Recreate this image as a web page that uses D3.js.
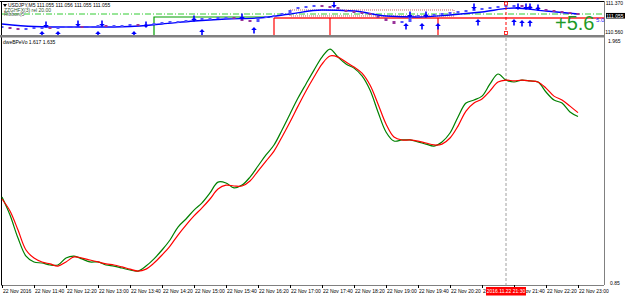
<!DOCTYPE html>
<html><head><meta charset="utf-8">
<script src="https://cdn.jsdelivr.net/npm/d3@7"></script>
<style>body{margin:0;background:#fff}svg{display:block}text{font-family:"Liberation Sans",Arial,sans-serif}</style>
</head><body>
<script>
// ---------- DATA ----------
const timeLabels = ["22 Nov 2016","22 Nov 11:40","22 Nov 12:20","22 Nov 13:00","22 Nov 13:40","22 Nov 14:20","22 Nov 15:00","22 Nov 15:40","22 Nov 16:20","22 Nov 17:00","22 Nov 17:40","22 Nov 18:20","22 Nov 19:00","22 Nov 19:40","22 Nov 20:20","22 Nov 21:00","22 Nov 21:40","22 Nov 22:20","22 Nov 23:00"];
const timeTickBars = [0,8,16,24,32,40,48,56,64,72,80,88,96,104,112,120,128,136,144];
// price closes, every 2nd M5 bar (bar 0,2,...,144)
const closes = [110.766,110.714,110.689,110.714,110.740,110.740,110.714,110.740,110.766,110.766,110.740,110.766,110.791,110.766,110.791,110.791,110.817,110.791,110.817,110.843,110.869,110.894,110.894,110.920,110.971,110.971,110.971,110.997,110.997,110.946,110.920,110.894,110.997,111.023,111.049,111.100,111.203,111.254,111.306,111.306,111.280,111.254,111.203,111.151,111.126,111.100,111.049,110.997,110.920,110.843,110.894,111.023,111.049,111.074,111.074,111.100,111.126,111.151,111.177,111.203,111.229,111.254,111.280,111.306,111.306,111.280,111.254,111.203,111.177,111.151,111.126,111.100,111.055];
// moving average, every 8th bar
const maBars = [0,8,16,24,32,40,48,56,64,72,80,88,96,104,112,120,128,136,144];
const maValues = [110.843,110.779,110.766,110.766,110.779,110.843,110.920,110.971,110.997,111.100,111.203,111.177,111.049,111.023,111.074,111.151,111.254,111.177,111.100];
const upArrowBars = [10,14,24,33,50,63,101,105,109,119,128,130,132];
const upArrowPrices = [110.663,110.663,110.663,110.663,110.714,110.766,110.869,110.869,110.869,110.971,110.971,110.946,110.946];
const downArrowBars = [11,19,25,36,48,60,83,102,106,118,129,131,132,134];
const downArrowPrices = [110.740,110.766,110.766,110.740,110.894,110.946,111.254,110.997,110.997,111.203,111.203,111.203,111.203,111.177];
const greenStepBars = [38,67]; const greenStepLevel = 111.023;
const redStepBars = [68,82,109]; const redStepLevel = 110.997;
const dashLevel = 111.100;
const boxBars = [72,113]; const boxLevels = [111.049,111.203];
const lastPrice = 111.055;
const priceAxisTicks = [111.370,110.560];
// indicator dweBPeVo, every 2nd bar
const mainLine = [1.246,1.163,1.057,0.974,0.947,0.942,0.933,0.933,0.965,0.974,0.961,0.947,0.947,0.933,0.928,0.919,0.910,0.905,0.928,0.961,1.002,1.048,1.108,1.145,1.186,1.219,1.265,1.315,1.311,1.288,1.301,1.338,1.389,1.440,1.486,1.555,1.629,1.702,1.767,1.831,1.891,1.928,1.891,1.859,1.840,1.804,1.739,1.638,1.546,1.504,1.509,1.509,1.500,1.490,1.481,1.500,1.541,1.615,1.679,1.693,1.711,1.767,1.813,1.785,1.776,1.785,1.781,1.776,1.730,1.693,1.679,1.638,1.617];
const signalLine = [1.237,1.182,1.094,1.002,0.965,0.947,0.938,0.928,0.947,0.970,0.965,0.956,0.947,0.938,0.933,0.924,0.914,0.905,0.914,0.942,0.979,1.020,1.071,1.117,1.159,1.196,1.237,1.283,1.301,1.297,1.297,1.320,1.366,1.412,1.458,1.523,1.592,1.665,1.735,1.799,1.859,1.896,1.891,1.868,1.845,1.817,1.762,1.675,1.583,1.523,1.509,1.509,1.504,1.495,1.486,1.490,1.518,1.573,1.642,1.679,1.698,1.735,1.776,1.785,1.781,1.785,1.781,1.776,1.748,1.711,1.693,1.665,1.635];
const indAxisTicks = [1.965,0.85];
const crossBar = 126; const crossLabel = "2016.11.22 21:30";

// ---------- LAYOUT ----------
const W=625,H=298, axisX=604, top1=2, bot1=35, top2=38, bot2=285;
const svg=d3.select("body").append("svg").attr("width",W).attr("height",H);
const x=d3.scaleLinear().domain([0,144]).range([2,578]);
const yP=d3.scaleLinear().domain([110.560,111.370]).range([35,3.5]);
const yI=d3.scaleLinear().domain([0.85,1.965]).range([283,41]);

svg.append("defs").append("clipPath").attr("id","c1").append("rect").attr("x",2).attr("y",top1).attr("width",axisX-2).attr("height",bot1-top1);

// frame
svg.append("line").attr("x1",0).attr("x2",axisX).attr("y1",1.5).attr("y2",1.5).attr("stroke","#000");
svg.append("line").attr("x1",1.5).attr("x2",1.5).attr("y1",1).attr("y2",bot2).attr("stroke","#000");
svg.append("line").attr("x1",axisX+0.5).attr("x2",axisX+0.5).attr("y1",1).attr("y2",bot2).attr("stroke","#808080");
svg.append("line").attr("x1",1).attr("x2",axisX).attr("y1",bot2+0.5).attr("y2",bot2+0.5).attr("stroke","#808080");

const g1=svg.append("g").attr("clip-path","url(#c1)");
// dash-dot level
g1.append("line").attr("x1",2).attr("x2",axisX).attr("y1",yP(dashLevel)).attr("y2",yP(dashLevel)).attr("stroke","#33cc33").attr("stroke-dasharray","6,2,1,2");
// dotted box
g1.append("rect").attr("x",x(boxBars[0])).attr("y",yP(boxLevels[1])).attr("width",x(boxBars[1])-x(boxBars[0])).attr("height",yP(boxLevels[0])-yP(boxLevels[1])).attr("fill","none").attr("stroke","#c86060").attr("stroke-dasharray","1,1");
// green step
g1.append("path").attr("d",`M${x(greenStepBars[0])},${bot1}V${yP(greenStepLevel)}H${x(greenStepBars[1])}`).attr("fill","none").attr("stroke","#00a000").attr("stroke-width",1.2);
// red step
g1.append("path").attr("d",`M${x(redStepBars[0])},${yP(redStepLevel)}H${axisX}`).attr("fill","none").attr("stroke","#ff2020").attr("stroke-width",1.3);
redStepBars.forEach(b=>g1.append("line").attr("x1",x(b)).attr("x2",x(b)).attr("y1",yP(redStepLevel)).attr("y2",bot1).attr("stroke","#ff0000").attr("stroke-width",1.2));
// MA
g1.append("path").datum(maBars.map((b,i)=>[b,maValues[i]])).attr("d",d3.line().x(d=>x(d[0])).y(d=>yP(d[1])).curve(d3.curveMonotoneX)).attr("fill","none").attr("stroke","#0000ff").attr("stroke-width",1.3);
// candles
closes.forEach((c,i)=>{
  const o=i?closes[i-1]:c; const yo=yP(o), yc=yP(c);
  const y0=Math.min(yo,yc), h=Math.max(2,Math.abs(yo-yc));
  g1.append("rect").attr("x",x(i*2)-1.5).attr("y",y0-(h===2?1:0)).attr("width",3).attr("height",h).attr("fill",c>=o?"#5050ff":"#993399");
});
// arrows
const arrowUp=(cx,ty)=>`M${cx},${ty}L${cx+2.8},${ty+3}H${cx+0.8}V${ty+6.5}H${cx-0.8}V${ty+3}H${cx-2.8}Z`;
const arrowDn=(cx,by)=>`M${cx},${by}L${cx+2.8},${by-3}H${cx+0.8}V${by-6.5}H${cx-0.8}V${by-3}H${cx-2.8}Z`;
upArrowBars.forEach((b,i)=>g1.append("path").attr("d",arrowUp(x(b),yP(upArrowPrices[i]))).attr("fill","#0000ff"));
downArrowBars.forEach((b,i)=>g1.append("path").attr("d",arrowDn(x(b),yP(downArrowPrices[i]))).attr("fill","#0000ff"));
// crosshair top
g1.append("line").attr("x1",x(crossBar)).attr("x2",x(crossBar)).attr("y1",top1).attr("y2",bot1).attr("stroke","#ff0000").attr("stroke-dasharray","3,2");
[top1+1.5,bot1-2].forEach(yy=>svg.append("rect").attr("x",x(crossBar)-1.5).attr("y",yy-1.5).attr("width",3).attr("height",3).attr("fill","#fff").attr("stroke","#ff0000").attr("stroke-width",0.8));

// texts top
svg.append("path").attr("d","M3,4H7L5,7Z").attr("fill","#000");
svg.append("text").attr("x",8).attr("y",7).attr("font-size",5).attr("fill","#000").text("USDJPY,M5  111.055 111.056 111.055 111.055");
svg.append("text").attr("x",4).attr("y",11.5).attr("font-size",5).attr("fill","#335533").text("ZZGHFX(3) rel 20.00");
svg.append("text").attr("x",4).attr("y",16).attr("font-size",5).attr("fill","#555").text("Ribbon(5");
svg.append("text").attr("x",555).attr("y",29.5).attr("font-size",20).attr("fill","#1f9a28").text("+5.6");
svg.append("text").attr("x",596).attr("y",22).attr("font-size",6).attr("fill","#2222ff").text("5.0");
// price axis
svg.append("text").attr("x",623).attr("y",yP(priceAxisTicks[0])+1.8).attr("font-size",5).attr("text-anchor","end").attr("fill","#000").text(priceAxisTicks[0].toFixed(3));
svg.append("text").attr("x",623).attr("y",yP(priceAxisTicks[1])-1).attr("font-size",5).attr("text-anchor","end").attr("fill","#000").text(priceAxisTicks[1].toFixed(3));
svg.append("rect").attr("x",606).attr("y",yP(lastPrice)-2.8).attr("width",19).attr("height",5.6).attr("fill","#000");
svg.append("text").attr("x",623.5).attr("y",yP(lastPrice)+1.8).attr("font-size",5).attr("text-anchor","end").attr("fill","#fff").text(lastPrice.toFixed(3));

// separator
svg.append("rect").attr("x",0).attr("y",35).attr("width",axisX).attr("height",2.5).attr("fill","#808080");

// lower panel
svg.append("line").attr("x1",x(crossBar)).attr("x2",x(crossBar)).attr("y1",top2).attr("y2",bot2).attr("stroke","#a0a0a0").attr("stroke-dasharray","3,2");
const lineGen=d3.line().x((d,i)=>x(i*2)).y(d=>yI(d)).curve(d3.curveCatmullRom);
svg.append("path").datum(mainLine).attr("d",lineGen).attr("fill","none").attr("stroke","#008000").attr("stroke-width",1.2);
svg.append("path").datum(signalLine).attr("d",lineGen).attr("fill","none").attr("stroke","#ff0000").attr("stroke-width",1.2);
svg.append("text").attr("x",3).attr("y",43.5).attr("font-size",5).attr("fill","#000").text(`dweBPeVo ${mainLine[mainLine.length-1].toFixed(3)} ${signalLine[signalLine.length-1].toFixed(3)}`);
svg.append("text").attr("x",608).attr("y",yI(indAxisTicks[0])+2).attr("font-size",5).attr("fill","#000").text("1.965");
svg.append("text").attr("x",610).attr("y",yI(indAxisTicks[1])+2).attr("font-size",5).attr("fill","#000").text("0.85");

// time axis
timeTickBars.forEach((b,i)=>{
  svg.append("line").attr("x1",x(b)+0.5).attr("x2",x(b)+0.5).attr("y1",bot2).attr("y2",bot2+3).attr("stroke","#000");
  svg.append("text").attr("x",x(b)+1).attr("y",293).attr("font-size",5).attr("fill","#000").text(timeLabels[i]);
});
svg.append("rect").attr("x",x(crossBar)-20).attr("y",287).attr("width",40).attr("height",8.5).attr("fill","#ff0000");
svg.append("text").attr("x",x(crossBar)).attr("y",293).attr("font-size",5).attr("text-anchor","middle").attr("fill","#fff").text(crossLabel);
</script>
</body></html>
